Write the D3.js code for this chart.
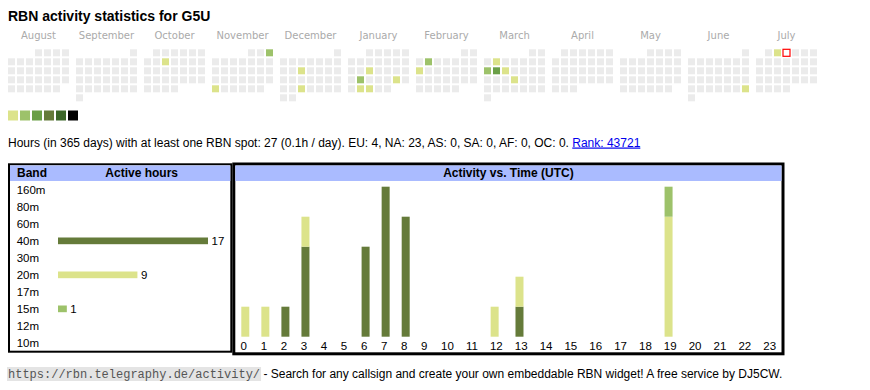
<!DOCTYPE html>
<html><head><meta charset="utf-8">
<script src="https://cdn.jsdelivr.net/npm/d3@7"></script>
<style>
html,body{margin:0;padding:0;background:#fff;}
svg{display:block;}
</style></head>
<body>
<svg id="c" width="870" height="390"></svg>
<script>
// ---------- data ----------
const callsign = "G5U";
const monthNames = ["August","September","October","November","December","January","February","March","April","May","June","July"];
const monthStarts = ["2024-08-01","2024-09-01","2024-10-01","2024-11-01","2024-12-01","2025-01-01","2025-02-01","2025-03-01","2025-04-01","2025-05-01","2025-06-01","2025-07-01"];
const activeDates = ["2024-10-09","2024-11-03","2024-11-25","2024-12-11","2024-12-25","2025-01-15","2025-01-21","2025-01-25","2025-01-28","2025-01-29","2025-02-04","2025-02-10","2025-03-04","2025-03-10","2025-03-11","2025-03-12","2025-03-20","2025-06-29","2025-07-02"];
const activeLevels = [1,2,1,1,1,1,2,1,1,1,2,1,1,2,3,1,1,1,1];
const today = "2025-07-03";
const levelColors = ["#dce38b","#9dc26a","#6a9f47","#657b3a","#3b6628","#000000"];

const bands = ["160m","80m","60m","40m","30m","20m","17m","15m","12m","10m"];
const bandHours = [0,0,0,17,0,9,0,1,0,0];
const bandColor = {"40m":"#657b3a","20m":"#dce38b","15m":"#9dc26a"};

const hourLabels = ["0","1","2","3","4","5","6","7","8","9","10","11","12","13","14","15","16","17","18","19","20","21","22","23"];
const hours40m = [0,0,1,3,0,0,3,5,4,0,0,0,0,1,0,0,0,0,0,0,0,0,0,0];
const hours20m = [1,1,0,1,0,0,0,0,0,0,0,0,1,1,0,0,0,0,0,4,0,0,0,0];
const hours15m = [0,0,0,0,0,0,0,0,0,0,0,0,0,0,0,0,0,0,0,1,0,0,0,0];

const totalHours = 27, periodDays = 365, perDay = "0.1";
const continents = ["EU","NA","AS","SA","AF","OC"];
const contCounts = [4,23,0,0,0,0];
const rank = 43721;

// ---------- drawing ----------
const svg = d3.select("#c");
const SANS = "'Liberation Sans', Arial, sans-serif";

svg.append("text").attr("x",8).attr("y",20.7)
  .attr("font-family",SANS).attr("font-weight","bold").attr("font-size",14).attr("fill","#000")
  .text(`RBN activity statistics for ${callsign}`);

// calendar
const parse = d3.timeParse("%Y-%m-%d");
const monthX = d3.scaleBand().domain(d3.range(12)).range([8, 8+68*11+61]).paddingInner(7/68).paddingOuter(0);
const colX = d3.scaleBand().domain(d3.range(7)).range([0,61]).paddingInner(2/9).paddingOuter(0);
const rowY = d3.scaleBand().domain(d3.range(6)).range([49.3, 49.3+52]).paddingInner(2/9).paddingOuter(0);
const levelByDate = new Map(activeDates.map((d,i)=>[d,activeLevels[i]]));
const fmt = d3.timeFormat("%Y-%m-%d");

monthStarts.forEach((ms,mi)=>{
  const start = parse(ms);
  const days = d3.timeDay.range(start, d3.timeMonth.offset(start,1));
  const first = (start.getDay()+6)%7;
  const g = svg.append("g").attr("transform",`translate(${monthX(mi)},0)`);
  g.append("text").attr("x",monthX.bandwidth()/2).attr("y",38.5).attr("text-anchor","middle")
    .attr("font-family","'DejaVu Sans', Verdana, sans-serif").attr("font-size",10).attr("fill","#aaa")
    .text(monthNames[mi]);
  g.selectAll("rect").data(days).join("rect")
    .attr("x",d=>colX((d.getDay()+6)%7))
    .attr("y",d=>rowY(Math.floor((d.getDate()-1+first)/7)))
    .attr("width",colX.bandwidth()).attr("height",rowY.bandwidth())
    .attr("fill",d=>{const l=levelByDate.get(fmt(d)); return l? levelColors[l-1] : "#ebebeb";})
    .each(function(d){
      if (fmt(d)===today){
        d3.select(this).attr("fill","#fff").attr("stroke","#f00").attr("stroke-width",1.2);
      }
    });
});

// legend
const legX = d3.scaleBand().domain(d3.range(levelColors.length)).range([8, 8+12*5+10]).paddingInner(2/12).paddingOuter(0);
svg.selectAll("rect.leg").data(levelColors).join("rect").attr("class","leg")
  .attr("x",(d,i)=>legX(i)).attr("y",110.5).attr("width",legX.bandwidth()).attr("height",10).attr("fill",d=>d);

// info line
const info = svg.append("text").attr("x",8).attr("y",146.5).attr("font-family",SANS).attr("font-size",12).attr("fill","#000");
info.append("tspan").text(`Hours (in ${periodDays} days) with at least one RBN spot: ${totalHours} (${perDay}h / day). ` +
  continents.map((c,i)=>`${c}: ${contCounts[i]}`).join(", ") + ". ");
info.append("tspan").attr("fill","#0000ee").attr("text-decoration","underline").style("text-decoration","underline").text(`Rank: ${rank}`);

// ---------- left box ----------
const L = {x:8, y:163.3, w:224.3, h:189.4, b:2};
const R = {x:232.3, y:162.5, w:552.2, h:192.8, b:3};
const headTop = 165.5, headBot = 181;
function box(b){
  svg.append("rect").attr("x",b.x).attr("y",b.y).attr("width",b.w).attr("height",b.h).attr("fill","#000");
  svg.append("rect").attr("x",b.x+b.b).attr("y",b.y+b.b).attr("width",b.w-2*b.b).attr("height",b.h-2*b.b).attr("fill","#fff");
  svg.append("rect").attr("x",b.x+b.b).attr("y",headTop).attr("width",b.w-2*b.b).attr("height",headBot-headTop).attr("fill","#aabbff");
}
box(L); box(R);

svg.append("text").attr("x",17).attr("y",176.8).attr("font-family",SANS).attr("font-weight","bold").attr("font-size",12).text("Band");
svg.append("text").attr("x",141.7).attr("y",176.8).attr("text-anchor","middle").attr("font-family",SANS).attr("font-weight","bold").attr("font-size",12).text("Active hours");

const bandY = d3.scalePoint().domain(bands).range([189.5, 342.5]);
const bandW = d3.scaleLinear().domain([0, d3.max(bandHours)]).range([0,150]);
const lb = svg.append("g");
lb.selectAll("text.band").data(bands).join("text").attr("class","band")
  .attr("x",16.7).attr("y",d=>bandY(d)+4.1).attr("font-family",SANS).attr("font-size",11.5).text(d=>d);
const bandData = bands.map((b,i)=>({b, v:bandHours[i]})).filter(d=>d.v>0);
lb.selectAll("rect.hb").data(bandData).join("rect").attr("class","hb")
  .attr("x",58).attr("y",d=>bandY(d.b)-3).attr("width",d=>bandW(d.v)).attr("height",6.7)
  .attr("fill",d=>bandColor[d.b]);
lb.selectAll("text.hv").data(bandData).join("text").attr("class","hv")
  .attr("x",d=>58+bandW(d.v)+3.5).attr("y",d=>bandY(d.b)+4.1).attr("font-family",SANS).attr("font-size",11.5).text(d=>d.v);

// ---------- right box ----------
svg.append("text").attr("x",R.x+R.w/2).attr("y",176.8).attr("text-anchor","middle")
  .attr("font-family",SANS).attr("font-weight","bold").attr("font-size",12).text("Activity vs. Time (UTC)");

// column layout like an auto table: min content width + equal share of spare space
const barW = 8;
const tmp = svg.append("text").attr("font-family",SANS).attr("font-size",11.5);
const minW = hourLabels.map(h=>{tmp.text(h); return Math.max(barW, tmp.node().getComputedTextLength());});
tmp.remove();
const tableLeft = R.x+R.b, tableWidth = 547.5, cellPad = 6;
const extra = (tableWidth - d3.sum(minW))/hourLabels.length;
const lefts = []; let acc = tableLeft;
minW.forEach(w=>{lefts.push(acc+cellPad); acc += w+extra;});
const hx = d3.scaleOrdinal().domain(hourLabels).range(lefts);

const stackRows = hourLabels.map((h,i)=>({hour:h, "40m":hours40m[i], "20m":hours20m[i], "15m":hours15m[i]}));
const series = d3.stack().keys(["40m","20m","15m"])(stackRows);
const maxTot = d3.max(stackRows, d=>d["40m"]+d["20m"]+d["15m"]);
const y = d3.scaleLinear().domain([0,maxTot]).range([336.7, 186.7]);

svg.append("g").selectAll("g").data(series).join("g").attr("fill",s=>bandColor[s.key])
  .selectAll("rect").data(s=>s.filter(d=>d[1]>d[0])).join("rect")
  .attr("x",d=>hx(d.data.hour)).attr("y",d=>y(d[1])).attr("width",barW).attr("height",d=>y(d[0])-y(d[1]));

svg.append("g").selectAll("text").data(hourLabels).join("text")
  .attr("x",d=>hx(d)-0.7).attr("y",350).attr("font-family",SANS).attr("font-size",11.5).text(d=>d);

// ---------- footer ----------
const url = "https://rbn.telegraphy.de/activity/";
const ft = svg.append("g");
const bg = ft.append("rect").attr("fill","#e4e4e4");
const mono = ft.append("text").attr("x",8).attr("y",378).attr("font-family","'Liberation Mono', 'Courier New', monospace").attr("font-size",12).attr("fill","#555").text(url);
const mw = mono.node().getComputedTextLength();
bg.attr("x",7).attr("y",367).attr("width",mw+2).attr("height",14);
ft.append("text").attr("x",8+mw).attr("y",378).attr("font-family",SANS).attr("font-size",12).attr("fill","#000")
  .attr("xml:space","preserve").style("white-space","pre")
  .text(" - Search for any callsign and create your own embeddable RBN widget! A free service by DJ5CW.");
</script>
</body></html>
